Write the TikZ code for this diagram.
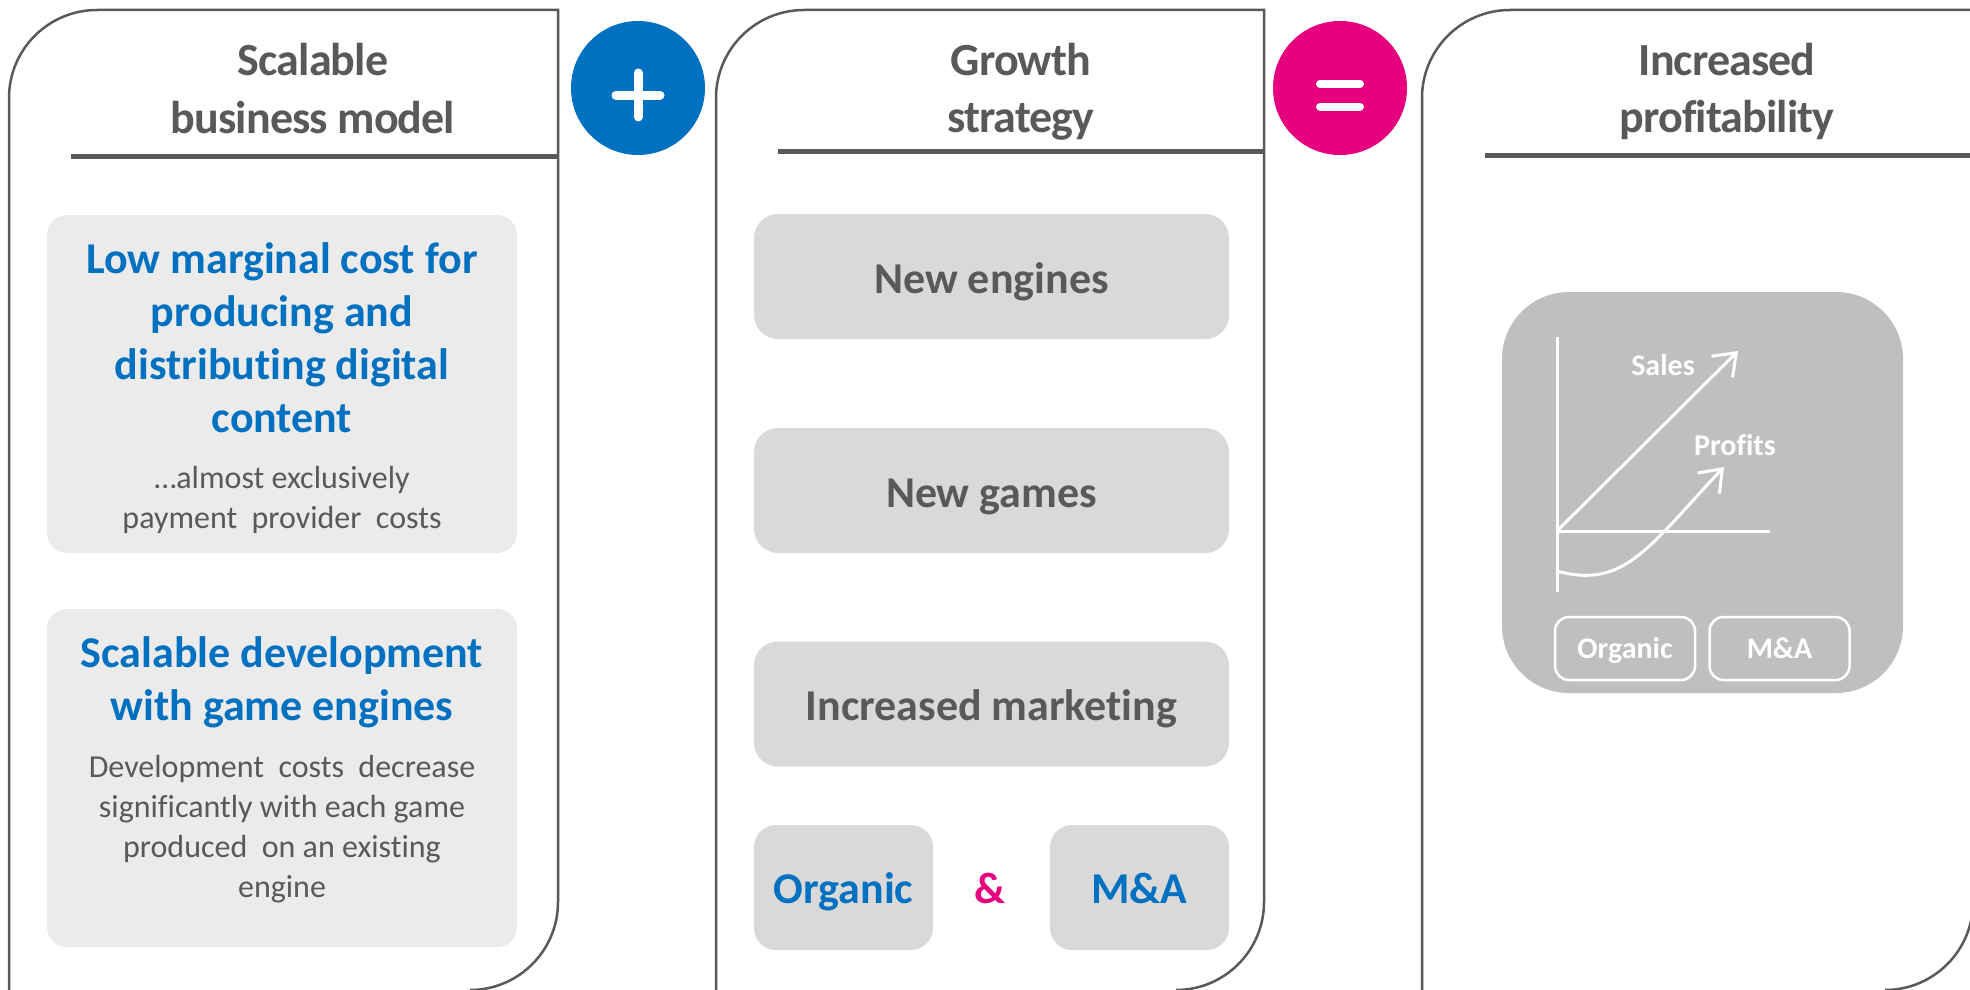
\documentclass[tikz,border=0pt]{standalone}
\usepackage{fontspec}
\setmainfont{Carlito}[Ligatures={NoCommon,NoContextual}]
\usetikzlibrary{arrows.meta,calc}

\definecolor{txtgray}{HTML}{595959}
\definecolor{brandblue}{HTML}{0070C0}
\definecolor{brandpink}{HTML}{E6007E}
\definecolor{paleboxfill}{HTML}{EBEBEB}
\definecolor{midboxfill}{HTML}{D9D9D9}
\definecolor{chartfill}{HTML}{BFBFBF}

\begin{document}
\begin{tikzpicture}[x=1pt,y=-1pt,
  panel/.style={draw=txtgray, line width=2.5pt},
  rule/.style={draw=txtgray, line width=5pt},
  titletext/.style={anchor=base, inner sep=0pt, text=txtgray,
    font=\fontsize{46}{56}\selectfont\bfseries\addfontfeature{LetterSpace=-2}},
  headtext/.style={anchor=base, inner sep=0pt, text=brandblue,
    font=\fontsize{44}{53}\selectfont\bfseries},
  bodytext/.style={anchor=base, inner sep=0pt, text=txtgray,
    font=\fontsize{32}{40}\selectfont},
  itemtext/.style={anchor=base, inner sep=0pt, text=txtgray,
    font=\fontsize{44}{53}\selectfont\bfseries},
  chartlabel/.style={anchor=base, inner sep=0pt, text=white,
    font=\fontsize{30}{36}\selectfont\bfseries},
  palebox/.style={rectangle, rounded corners=20pt, fill=paleboxfill,
    minimum width=470pt, minimum height=338pt, inner sep=0pt},
  itembox/.style={rectangle, rounded corners=24pt, fill=midboxfill,
    minimum width=475pt, minimum height=125pt, inner sep=0pt},
  smallbox/.style={rectangle, rounded corners=22pt, fill=midboxfill,
    minimum width=179pt, minimum height=125pt, inner sep=0pt},
  opcircle/.style={circle, minimum size=134pt, inner sep=0pt},
  opbar/.style={draw=white, line width=9pt, line cap=round},
  chartline/.style={draw=white, line width=3pt},
  chartarrow/.style={draw=white, line width=3pt,
    -{Straight Barb[length=20pt, width=30pt]}},
  tagbox/.style={rectangle, rounded corners=14pt, draw=white, line width=2.5pt,
    minimum width=140pt, minimum height=63pt, inner sep=0pt}
]
\useasboundingbox (0,0) rectangle (1970,990);

% ---------- three panels ----------
\draw[panel] (9,992) -- (9,98) arc[start angle=180, end angle=270, radius=88]
  -- (558,10) -- (558,902) arc[start angle=0, end angle=90, radius=88] -- (470,990);
\draw[panel] (716,992) -- (716,98) arc[start angle=180, end angle=270, radius=88]
  -- (1264,10) -- (1264,902) arc[start angle=0, end angle=90, radius=88] -- (1176,990);
\draw[panel] (1422,992) -- (1422,98) arc[start angle=180, end angle=270, radius=88]
  -- (1973,10) -- (1973,902) arc[start angle=0, end angle=90, radius=88] -- (1885,990);

% ---------- titles ----------
\node[titletext] (t1a) at (313,75) {Scalable};
\node[titletext] (t1b) at (313,133) {business model};
\draw[rule] (71,156) -- (557,156);

\node[titletext] (t2a) at (1021,75) {Growth};
\node[titletext] (t2b) at (1021,132) {strategy};
\draw[rule] (778,151) -- (1264,151);

\node[titletext] (t3a) at (1727,75) {Increased};
\node[titletext] (t3b) at (1727,132) {profitability};
\draw[rule] (1485,155) -- (1970,155);

% ---------- operators ----------
\node[opcircle, fill=brandblue] (plus) at (638,88) {};
\draw[opbar] ($(plus.center)+(-22,7)$) -- ($(plus.center)+(22,7)$);
\draw[opbar] ($(plus.center)+(0,-15)$) -- ($(plus.center)+(0,29)$);

\node[opcircle, fill=brandpink] (equals) at (1340,88) {};
\draw[opbar, line width=8pt] ($(equals.center)+(-20,-4.5)$) -- ($(equals.center)+(20,-4.5)$);
\draw[opbar, line width=8pt] ($(equals.center)+(-20,18.5)$) -- ($(equals.center)+(20,18.5)$);

% ---------- scalable business model ----------
\node[palebox] (cost) at (282,384) {};
\node[headtext] (c1) at (282,273) {Low marginal cost for};
\node[headtext] (c2) at (282,326) {producing and};
\node[headtext] (c3) at (282,379) {distributing digital};
\node[headtext] (c4) at (282,432) {content};
\node[bodytext] (c5) at (282,488) {…almost exclusively};
\node[bodytext] (c6) at (282,528) {payment\ \ provider\ \ costs};

\node[palebox] (dev) at (282,778) {};
\node[headtext] (d1) at (282,667) {Scalable development};
\node[headtext] (d2) at (282,720) {with game engines};
\node[bodytext] (d3) at (282,777) {Development\ \ costs\ \ decrease};
\node[bodytext] (d4) at (282,817) {significantly with each game};
\node[bodytext] (d5) at (282,857) {produced\ \ on\ an\ existing};
\node[bodytext] (d6) at (282,897) {engine};

% ---------- growth strategy ----------
\node[itembox] (engines) at (991.5,276.5) {};
\node[itemtext] (engtxt) at (991.5,293) {New engines};
\node[itembox] (games) at (991.5,490.5) {};
\node[itemtext] (gamtxt) at (991.5,507) {New games};
\node[itembox] (marketing) at (991.5,704) {};
\node[itemtext] (mkttxt) at (991.5,720) {Increased marketing};

\node[smallbox] (organic) at (843.5,887.5) {};
\node[headtext] (orgtxt) at (843.5,903) {Organic};
\node[smallbox] (mna) at (1139.5,887.5) {};
\node[headtext] (mnatxt) at (1139.5,903) {M\&A};
\node[headtext, text=brandpink] (amp) at (990,903) {\&};

% ---------- increased profitability chart ----------
\node[rectangle, rounded corners=67pt, fill=chartfill, minimum width=401pt,
  minimum height=401pt, inner sep=0pt] (chart) at (1702.5,492.5) {};
\coordinate (origin) at (1557,531);
\coordinate (ytop) at (1557,337);
\coordinate (ybot) at (1557,592);
\coordinate (xend) at (1770,531);
\coordinate (salesend) at (1738,351);
\coordinate (profstart) at (1557,571);
\coordinate (profend) at (1724,467);
\draw[chartline] (ytop) -- (ybot);
\draw[chartline] (origin) -- (xend);
\draw[chartarrow] (origin) -- (salesend);
\draw[chartarrow] (profstart) .. controls (1625,590) and (1650,545) .. (profend);
\node[chartlabel] (sales) at (1663,375) {Sales};
\node[chartlabel] (profits) at (1735,455) {Profits};

\node[tagbox] (tagorg) at (1625,648.5) {};
\node[chartlabel] (tagorgtxt) at (1625,658) {Organic};
\node[tagbox] (tagmna) at (1779.5,648.5) {};
\node[chartlabel] (tagmnatxt) at (1779.5,658) {M\&A};
\end{tikzpicture}
\end{document}
